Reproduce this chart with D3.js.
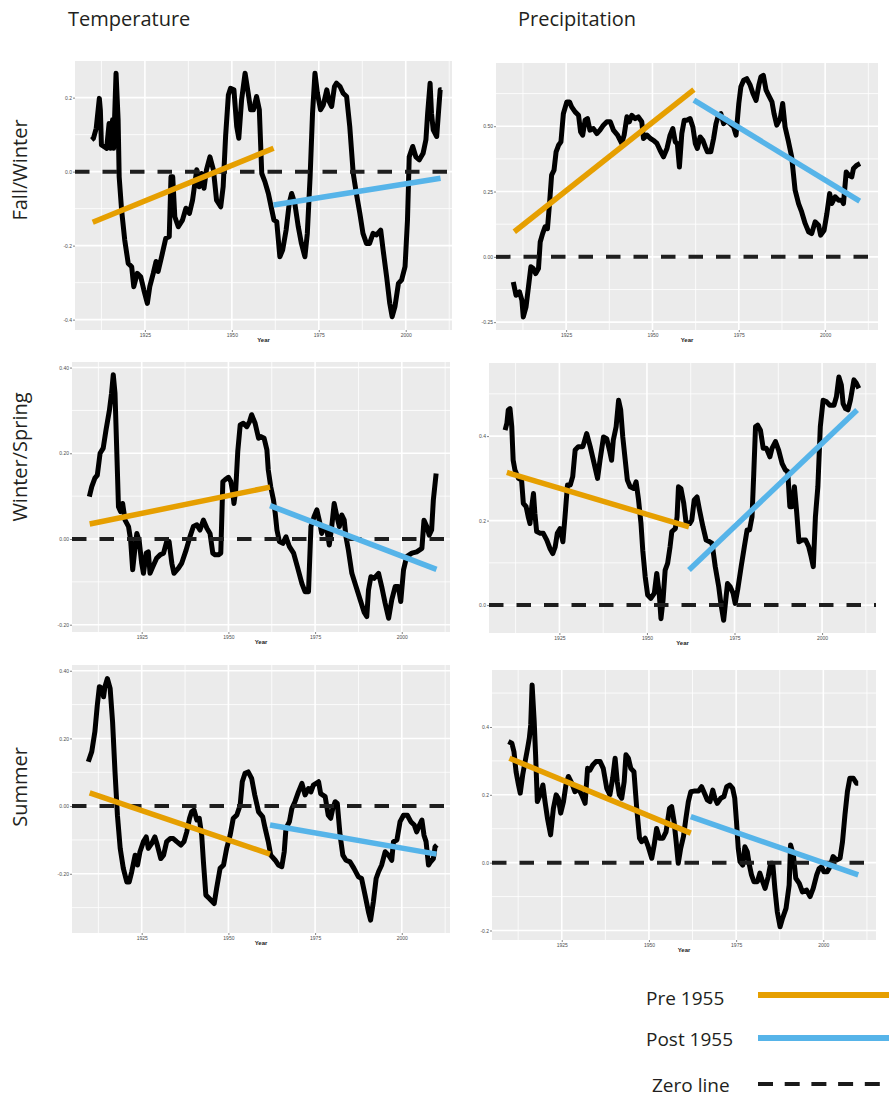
<!DOCTYPE html>
<html>
<head>
<meta charset="utf-8">
<script src="https://cdn.jsdelivr.net/npm/d3@7"></script>
<style>
  body { margin: 0; background: #ffffff; }
  svg { display: block; }
</style>
</head>
<body>
<svg id="chart" width="889" height="1099"></svg>
<script>
// ---------------------------------------------------------------
// Smoothed anomaly series (year, value) for each season / variable
// ---------------------------------------------------------------
const yearTicks = [1925, 1950, 1975, 2000];
const yearTickLabels = ["1925", "1950", "1975", "2000"];
const preYears = [1910, 1962];
const postYears = [1962, 2010];

// Temperature, Fall/Winter
const tempFallWinterYear = [1909.7,1910.2,1911.0,1911.9,1912.2,1912.5,1913.5,1914.0,1914.7,1915.1,1915.7,1916.0,1916.7,1917.3,1917.6,1918.3,1919.2,1920.2,1921.2,1921.8,1922.8,1923.8,1924.7,1925.7,1926.4,1927.4,1928.2,1928.8,1929.8,1931.0,1932.0,1932.5,1933.0,1933.6,1934.6,1935.8,1936.8,1937.8,1938.7,1939.9,1940.6,1941.3,1942.0,1942.7,1943.7,1944.7,1945.6,1946.8,1947.5,1948.2,1949.0,1949.6,1950.6,1951.4,1952.0,1952.8,1953.8,1954.7,1955.4,1956.2,1957.1,1957.9,1958.6,1959.5,1960.5,1961.5,1962.1,1962.9,1963.8,1964.6,1965.6,1966.5,1967.2,1968.1,1969.1,1970.0,1971.0,1971.7,1972.5,1973.2,1973.9,1974.6,1975.5,1976.3,1977.3,1978.0,1978.7,1979.5,1980.1,1981.1,1982.0,1983.0,1983.9,1984.9,1985.8,1986.8,1987.7,1988.7,1989.6,1990.6,1991.6,1992.8,1993.5,1994.5,1995.4,1996.1,1996.9,1997.9,1998.8,1999.8,2000.5,2001.0,2002.0,2002.9,2003.9,2005.0,2005.8,2006.3,2007.0,2007.4,2007.9,2008.9,2009.4,2009.9,2010.3];
const tempFallWinterValue = [0.086,0.09,0.117,0.198,0.165,0.072,0.066,0.063,0.13,0.063,0.14,0.063,0.266,0.14,-0.014,-0.104,-0.185,-0.248,-0.257,-0.311,-0.275,-0.284,-0.32,-0.356,-0.311,-0.275,-0.243,-0.27,-0.23,-0.18,-0.176,-0.014,-0.014,-0.122,-0.149,-0.131,-0.099,-0.113,-0.077,0.005,-0.041,-0.005,-0.045,0.005,0.04,0.005,-0.077,-0.095,-0.041,0.095,0.207,0.225,0.221,0.122,0.09,0.194,0.266,0.212,0.167,0.167,0.203,0.167,-0.005,-0.027,-0.059,-0.104,-0.131,-0.135,-0.23,-0.212,-0.158,-0.086,-0.059,-0.086,-0.149,-0.194,-0.23,-0.167,-0.014,0.158,0.266,0.212,0.167,0.18,0.221,0.189,0.176,0.23,0.239,0.23,0.212,0.203,0.122,-0.005,-0.059,-0.113,-0.167,-0.194,-0.194,-0.167,-0.171,-0.158,-0.212,-0.284,-0.356,-0.392,-0.365,-0.302,-0.293,-0.257,-0.131,0.04,0.068,0.04,0.032,0.05,0.086,0.158,0.239,0.158,0.113,0.095,0.158,0.221,0.221];
const tempFallWinterPre = [-0.137, 0.063];
const tempFallWinterPost = [-0.09, -0.018];
const tempFallWinterTicks = [-0.4, -0.2, 0, 0.2];
const tempFallWinterTickLabels = ["-0.4", "-0.2", "0.0", "0.2"];

// Temperature, Winter/Spring
const tempWinterSpringYear = [1909.9,1910.6,1911.5,1912.2,1913.0,1913.9,1914.7,1915.7,1916.3,1916.8,1917.3,1917.8,1918.3,1918.9,1919.5,1920.2,1921.2,1921.8,1922.4,1923.1,1923.6,1924.3,1925.0,1925.5,1926.3,1926.9,1927.4,1928.2,1929.3,1930.3,1931.3,1932.2,1932.9,1933.7,1934.3,1935.6,1936.5,1937.8,1938.9,1939.9,1940.9,1941.8,1942.8,1943.8,1944.7,1945.5,1946.2,1947.1,1947.8,1948.4,1949.0,1950.0,1950.7,1951.3,1951.6,1952.1,1952.7,1953.4,1954.3,1955.3,1956.1,1956.7,1957.7,1958.7,1959.4,1960.3,1961.1,1961.5,1962.2,1963.0,1963.5,1964.0,1964.7,1965.7,1966.6,1967.6,1968.8,1969.9,1971.2,1972.1,1973.1,1973.8,1974.7,1975.5,1976.3,1976.9,1977.6,1978.4,1979.1,1979.8,1980.5,1981.3,1982.0,1982.7,1983.4,1983.9,1984.6,1985.6,1986.8,1988.0,1989.1,1989.9,1990.4,1991.1,1992.0,1993.3,1994.2,1995.2,1996.2,1997.1,1998.1,1999.0,1999.7,2000.5,2001.4,2002.9,2004.3,2005.8,2006.4,2007.2,2007.9,2008.6,2009.1,2009.9];
const tempWinterSpringValue = [0.099,0.122,0.142,0.149,0.2,0.212,0.254,0.301,0.34,0.383,0.34,0.208,0.075,0.064,0.083,0.044,0.029,-0.002,-0.072,-0.018,0.013,-0.006,-0.057,-0.08,-0.033,-0.03,-0.08,-0.065,-0.045,-0.037,-0.033,-0.006,-0.006,-0.057,-0.08,-0.068,-0.057,-0.026,0.005,0.029,0.033,0.021,0.044,0.025,0.013,-0.033,-0.037,-0.037,-0.033,0.134,0.138,0.144,0.134,0.107,0.083,0.114,0.204,0.266,0.27,0.262,0.274,0.29,0.27,0.235,0.239,0.235,0.208,0.161,0.122,0.091,0.06,0.021,-0.006,-0.01,0.005,-0.018,-0.033,-0.065,-0.104,-0.123,-0.123,0.029,0.052,0.068,0.04,0.013,0.029,0.021,-0.014,0.029,0.083,0.052,0.029,0.056,0.044,0.005,-0.026,-0.08,-0.111,-0.142,-0.17,-0.181,-0.119,-0.088,-0.092,-0.08,-0.111,-0.15,-0.185,-0.142,-0.111,-0.111,-0.146,-0.072,-0.041,-0.033,-0.03,-0.022,0.044,0.029,0.009,0.021,0.091,0.153];
const tempWinterSpringPre = [0.035, 0.121];
const tempWinterSpringPost = [0.078, -0.071];
const tempWinterSpringTicks = [-0.2, 0, 0.2, 0.4];
const tempWinterSpringTickLabels = ["-0.20", "0.00", "0.20", "0.40"];

// Temperature, Summer
const tempSummerYear = [1909.6,1910.6,1911.5,1912.2,1912.8,1913.5,1914.0,1914.4,1915.1,1915.9,1916.6,1917.3,1918.0,1918.8,1919.7,1920.7,1921.4,1922.1,1923.1,1923.8,1924.5,1925.5,1926.3,1926.9,1927.9,1928.8,1929.5,1930.5,1931.3,1932.2,1933.2,1934.1,1935.1,1936.3,1937.2,1938.0,1938.8,1939.4,1940.1,1940.9,1941.6,1942.3,1942.8,1943.5,1944.5,1945.9,1946.6,1947.6,1948.6,1949.5,1950.5,1951.4,1952.4,1953.4,1954.0,1954.8,1955.7,1956.7,1957.6,1958.7,1959.9,1960.6,1961.5,1962.2,1963.5,1964.4,1965.4,1966.1,1966.6,1967.6,1968.3,1969.2,1970.2,1971.2,1972.1,1973.1,1973.8,1974.5,1976.0,1976.6,1977.9,1978.8,1979.5,1980.1,1980.8,1981.4,1982.2,1983.0,1983.9,1985.1,1986.2,1987.5,1988.4,1989.4,1990.4,1991.0,1991.8,1992.6,1993.3,1994.2,1995.2,1996.2,1997.1,1997.6,1998.6,1999.5,2000.5,2001.6,2002.6,2003.6,2004.3,2005.1,2005.8,2006.4,2007.0,2007.7,2008.3,2009.1,2009.6,2010.1];
const tempSummerValue = [0.131,0.161,0.22,0.299,0.353,0.348,0.323,0.353,0.377,0.348,0.249,0.101,-0.027,-0.125,-0.184,-0.224,-0.224,-0.195,-0.145,-0.174,-0.135,-0.105,-0.091,-0.125,-0.11,-0.091,-0.115,-0.155,-0.145,-0.105,-0.096,-0.096,-0.105,-0.115,-0.105,-0.076,-0.036,-0.017,-0.012,-0.041,-0.036,-0.086,-0.165,-0.263,-0.273,-0.288,-0.243,-0.184,-0.174,-0.125,-0.086,-0.036,-0.027,0.003,0.072,0.097,0.101,0.082,0.033,-0.017,-0.032,-0.066,-0.105,-0.145,-0.16,-0.174,-0.179,-0.135,-0.066,-0.046,-0.007,0.013,0.042,0.067,0.033,0.052,0.042,0.062,0.072,0.037,0.028,-0.027,-0.036,-0.007,0.013,0.008,-0.086,-0.145,-0.16,-0.165,-0.184,-0.209,-0.214,-0.263,-0.313,-0.337,-0.283,-0.214,-0.194,-0.174,-0.135,-0.145,-0.16,-0.105,-0.1,-0.046,-0.027,-0.027,-0.046,-0.056,-0.076,-0.056,-0.041,-0.086,-0.105,-0.174,-0.165,-0.155,-0.12,-0.115];
const tempSummerPre = [0.039, -0.142];
const tempSummerPost = [-0.056, -0.142];
const tempSummerTicks = [-0.2, 0, 0.2, 0.4];
const tempSummerTickLabels = ["-0.20", "0.00", "0.20", "0.40"];

// Precipitation, Fall/Winter
const precipFallWinterYear = [1909.7,1910.5,1911.5,1912.2,1912.6,1913.4,1914.1,1914.8,1915.5,1916.2,1917.0,1917.5,1918.2,1918.9,1919.6,1920.2,1920.8,1921.5,1922.1,1922.8,1923.5,1924.2,1925.2,1926.0,1926.6,1927.6,1928.6,1929.2,1929.8,1930.5,1931.2,1931.9,1932.9,1933.9,1934.8,1935.8,1936.8,1937.8,1938.7,1939.9,1941.1,1941.8,1942.6,1943.3,1944.0,1945.0,1945.9,1946.9,1947.4,1948.4,1949.4,1950.3,1951.3,1952.2,1953.2,1954.2,1955.1,1955.9,1956.6,1957.2,1957.8,1958.5,1959.2,1959.9,1960.9,1961.7,1962.4,1963.0,1963.8,1964.6,1965.3,1965.9,1966.9,1967.7,1968.4,1969.1,1969.8,1970.6,1971.5,1972.5,1973.5,1974.2,1975.0,1975.6,1976.4,1977.3,1978.3,1979.1,1980.0,1980.8,1981.4,1982.1,1982.9,1983.6,1984.6,1985.2,1986.0,1987.0,1987.7,1988.4,1989.4,1990.3,1991.3,1992.3,1993.2,1994.2,1995.2,1996.1,1997.1,1998.1,1998.7,1999.7,2000.5,2001.3,2001.9,2002.9,2003.9,2004.8,2005.3,2006.1,2006.8,2007.7,2008.2,2009.2,2010.1];
const precipFallWinterValue = [-0.096,-0.147,-0.134,-0.166,-0.23,-0.191,-0.115,-0.038,-0.045,-0.064,-0.045,0.057,0.089,0.115,0.108,0.204,0.313,0.332,0.402,0.427,0.44,0.548,0.593,0.593,0.574,0.555,0.542,0.478,0.466,0.523,0.529,0.485,0.491,0.472,0.485,0.504,0.517,0.517,0.485,0.466,0.434,0.466,0.536,0.517,0.542,0.529,0.536,0.517,0.453,0.466,0.453,0.446,0.434,0.408,0.383,0.415,0.466,0.491,0.44,0.434,0.344,0.472,0.523,0.523,0.529,0.497,0.434,0.415,0.459,0.446,0.421,0.402,0.402,0.453,0.51,0.542,0.548,0.51,0.523,0.51,0.497,0.466,0.587,0.651,0.676,0.682,0.657,0.625,0.599,0.657,0.689,0.695,0.638,0.619,0.593,0.548,0.504,0.529,0.587,0.497,0.44,0.383,0.255,0.204,0.172,0.128,0.096,0.089,0.134,0.121,0.083,0.102,0.166,0.242,0.204,0.23,0.217,0.217,0.204,0.325,0.313,0.306,0.338,0.351,0.357];
const precipFallWinterPre = [0.096, 0.64];
const precipFallWinterPost = [0.6, 0.213];
const precipFallWinterTicks = [-0.25, 0, 0.25, 0.5];
const precipFallWinterTickLabels = ["-0.25", "0.00", "0.25", "0.50"];

// Precipitation, Winter/Spring
const precipWinterSpringYear = [1909.5,1910.0,1910.4,1910.9,1911.4,1911.8,1912.3,1913.3,1914.2,1914.7,1915.5,1916.1,1916.6,1917.1,1917.6,1918.0,1918.5,1919.5,1920.4,1921.4,1922.3,1923.1,1923.8,1924.4,1925.2,1926.0,1926.6,1927.3,1928.1,1928.8,1929.5,1930.4,1931.7,1932.8,1933.8,1934.7,1935.9,1936.6,1937.6,1938.5,1939.3,1939.9,1940.4,1941.2,1941.9,1942.5,1943.1,1943.8,1944.4,1945.2,1946.2,1946.9,1947.6,1948.3,1948.8,1949.5,1950.2,1951.1,1952.1,1952.8,1953.5,1954.0,1954.6,1955.2,1955.9,1956.6,1957.1,1958.1,1958.6,1959.0,1959.7,1960.5,1961.2,1962.2,1962.8,1963.5,1964.3,1965.0,1966.0,1966.9,1967.9,1968.6,1969.5,1970.5,1971.1,1971.9,1972.4,1973.0,1973.8,1974.6,1975.2,1975.9,1976.9,1977.8,1978.6,1979.3,1980.0,1980.5,1981.0,1981.6,1982.4,1983.2,1984.1,1985.1,1985.7,1986.7,1987.6,1988.6,1989.5,1990.2,1990.8,1991.4,1992.1,1992.7,1993.4,1994.3,1995.3,1996.2,1996.9,1997.5,1998.1,1998.8,1999.5,2000.3,2001.3,2002.2,2003.4,2004.1,2004.8,2005.5,2006.0,2006.7,2007.4,2008.1,2009.1,2009.8,2010.5];
const precipWinterSpringValue = [0.414,0.43,0.462,0.465,0.422,0.343,0.32,0.3,0.296,0.241,0.233,0.209,0.193,0.233,0.264,0.217,0.174,0.17,0.17,0.154,0.134,0.122,0.138,0.17,0.181,0.15,0.209,0.284,0.284,0.304,0.367,0.375,0.375,0.406,0.375,0.343,0.3,0.343,0.398,0.394,0.367,0.343,0.391,0.422,0.485,0.462,0.398,0.343,0.296,0.28,0.276,0.292,0.249,0.193,0.13,0.067,0.024,0.016,0.028,0.075,0.028,-0.032,0.012,0.083,0.099,0.138,0.174,0.181,0.209,0.28,0.276,0.241,0.193,0.193,0.201,0.249,0.256,0.225,0.185,0.154,0.15,0.146,0.091,0.043,0.004,-0.036,0.004,0.051,0.043,0.028,0.004,0.036,0.091,0.138,0.178,0.178,0.209,0.312,0.422,0.426,0.414,0.371,0.371,0.351,0.371,0.387,0.367,0.335,0.32,0.316,0.233,0.233,0.28,0.225,0.15,0.154,0.154,0.138,0.114,0.091,0.209,0.28,0.422,0.485,0.481,0.473,0.473,0.493,0.54,0.521,0.477,0.465,0.462,0.485,0.533,0.525,0.513];
const precipWinterSpringPre = [0.314, 0.185];
const precipWinterSpringPost = [0.083, 0.462];
const precipWinterSpringTicks = [0, 0.2, 0.4];
const precipWinterSpringTickLabels = ["0.0", "0.2", "0.4"];

// Precipitation, Summer
const precipSummerYear = [1909.7,1910.7,1911.3,1911.9,1912.6,1913.1,1913.8,1914.5,1915.2,1915.7,1916.1,1916.5,1917.1,1917.5,1918.0,1918.8,1919.6,1920.2,1920.9,1921.8,1922.6,1923.4,1924.0,1924.7,1925.5,1926.2,1926.9,1927.9,1928.8,1929.8,1930.7,1931.7,1932.4,1933.1,1933.9,1934.8,1936.0,1936.9,1937.9,1938.8,1939.6,1940.3,1940.9,1941.5,1942.2,1942.9,1943.4,1944.1,1944.8,1945.7,1946.5,1947.3,1947.9,1948.9,1949.8,1950.8,1951.5,1952.2,1953.0,1954.0,1954.9,1955.9,1956.5,1957.2,1957.8,1958.4,1959.1,1959.9,1960.6,1961.3,1962.0,1962.9,1964.2,1965.1,1966.1,1966.7,1967.5,1968.3,1968.9,1969.6,1970.6,1971.5,1972.3,1973.2,1974.0,1974.6,1975.1,1975.6,1976.1,1976.9,1977.5,1978.2,1978.8,1979.4,1980.1,1981.1,1981.8,1982.6,1983.3,1984.2,1984.9,1985.5,1986.1,1986.8,1987.6,1988.3,1989.3,1990.2,1990.6,1991.4,1992.1,1993.1,1994.0,1995.2,1996.2,1997.1,1998.1,1998.8,1999.5,2000.2,2001.1,2001.9,2002.8,2003.8,2004.8,2005.5,2006.2,2006.9,2007.6,2008.6,2009.5,2010.0];
const precipSummerValue = [0.357,0.352,0.327,0.268,0.229,0.205,0.259,0.298,0.337,0.367,0.406,0.524,0.416,0.318,0.18,0.2,0.229,0.18,0.131,0.082,0.16,0.2,0.19,0.146,0.18,0.229,0.254,0.234,0.209,0.219,0.2,0.175,0.278,0.273,0.288,0.298,0.298,0.278,0.219,0.2,0.249,0.308,0.239,0.2,0.19,0.239,0.318,0.308,0.278,0.268,0.16,0.072,0.062,0.072,0.047,0.013,0.052,0.101,0.072,0.072,0.091,0.16,0.165,0.121,0.062,-0.002,0.042,0.077,0.131,0.18,0.209,0.211,0.211,0.224,0.2,0.185,0.18,0.214,0.19,0.175,0.19,0.195,0.224,0.229,0.219,0.19,0.121,0.042,0.003,-0.007,0.047,0.032,-0.007,-0.036,-0.056,-0.056,-0.031,-0.056,-0.076,-0.041,-0.002,-0.002,-0.076,-0.145,-0.189,-0.164,-0.135,-0.066,0.052,0.023,-0.046,-0.061,-0.086,-0.081,-0.1,-0.076,-0.036,-0.017,-0.012,-0.027,-0.027,-0.012,0.018,0.008,0.013,0.062,0.141,0.209,0.249,0.249,0.234,0.234];
const precipSummerPre = [0.308, 0.087];
const precipSummerPost = [0.136, -0.036];
const precipSummerTicks = [-0.2, 0, 0.2, 0.4];
const precipSummerTickLabels = ["-0.2", "0.0", "0.2", "0.4"];

// Column / row headings and legend entries
const columnTitles = ["Temperature", "Precipitation"];
const rowTitles = ["Fall/Winter", "Winter/Spring", "Summer"];
const legendLabels = ["Pre 1955", "Post 1955", "Zero line"];

// ---------------------------------------------------------------
// Layout and styling
// ---------------------------------------------------------------
const COLORS = { pre: "#E69F00", post: "#56B4E9", series: "#000000", zero: "#1e1e1e",
                 panel: "#EBEBEB", grid: "#FFFFFF", text: "#231f20", tick: "#4d4d4d" };
const HEAD_FONT = "'Open Sans', 'Noto Sans', sans-serif";
const AXIS_FONT = "'Liberation Sans', Arial, sans-serif";

const panels = [
  { year: tempFallWinterYear, value: tempFallWinterValue, pre: tempFallWinterPre, post: tempFallWinterPost,
    ticks: tempFallWinterTicks, labels: tempFallWinterTickLabels,
    box: [75, 61, 452, 330], xDom: [1904.9, 2013.3], yDom: [-0.428, 0.299] },
  { year: precipFallWinterYear, value: precipFallWinterValue, pre: precipFallWinterPre, post: precipFallWinterPost,
    ticks: precipFallWinterTicks, labels: precipFallWinterTickLabels,
    box: [496, 63, 878, 330], xDom: [1904.7, 2015.3], yDom: [-0.28, 0.742] },
  { year: tempWinterSpringYear, value: tempWinterSpringValue, pre: tempWinterSpringPre, post: tempWinterSpringPost,
    ticks: tempWinterSpringTicks, labels: tempWinterSpringTickLabels,
    box: [72, 362, 450, 632], xDom: [1904.9, 2013.9], yDom: [-0.217, 0.413] },
  { year: precipWinterSpringYear, value: precipWinterSpringValue, pre: precipWinterSpringPre, post: precipWinterSpringPost,
    ticks: precipWinterSpringTicks, labels: precipWinterSpringTickLabels,
    box: [489, 363, 876, 633], xDom: [1904.9, 2015.4], yDom: [-0.066, 0.573] },
  { year: tempSummerYear, value: tempSummerValue, pre: tempSummerPre, post: tempSummerPost,
    ticks: tempSummerTicks, labels: tempSummerTickLabels,
    box: [72, 665, 450, 933], xDom: [1904.9, 2013.9], yDom: [-0.375, 0.417] },
  { year: precipSummerYear, value: precipSummerValue, pre: precipSummerPre, post: precipSummerPost,
    ticks: precipSummerTicks, labels: precipSummerTickLabels,
    box: [492, 670, 876, 940], xDom: [1905.0, 2015.1], yDom: [-0.228, 0.568] }
];

const svg = d3.select("#chart");

// minor grid positions: halfway between majors, extended one step outward
function minorsOf(majors, domain) {
  const step = majors[1] - majors[0];
  const out = [];
  for (let v = majors[0] - step / 2; v <= majors[majors.length - 1] + step / 2 + 1e-9; v += step) {
    if (v >= domain[0] - 1e-9 && v <= domain[1] + 1e-9) out.push(+v.toFixed(4));
  }
  return out;
}

panels.forEach(p => {
  const [x0, y0, x1, y1] = p.box;
  const x = d3.scaleLinear().domain(p.xDom).range([x0, x1]);
  const y = d3.scaleLinear().domain(p.yDom).range([y1, y0]);
  const g = svg.append("g");

  const clipId = "clip" + x0 + "_" + y0;
  svg.append("clipPath").attr("id", clipId)
    .append("rect").attr("x", x0).attr("y", y0).attr("width", x1 - x0).attr("height", y1 - y0);

  g.append("rect").attr("x", x0).attr("y", y0).attr("width", x1 - x0).attr("height", y1 - y0)
    .attr("fill", COLORS.panel);

  // grid
  const grid = g.append("g").attr("stroke", COLORS.grid);
  grid.selectAll(".ymin").data(minorsOf(p.ticks, p.yDom)).join("line")
    .attr("x1", x0).attr("x2", x1).attr("y1", d => y(d)).attr("y2", d => y(d)).attr("stroke-width", 0.8);
  grid.selectAll(".xmin").data(minorsOf(yearTicks, p.xDom)).join("line")
    .attr("y1", y0).attr("y2", y1).attr("x1", d => x(d)).attr("x2", d => x(d)).attr("stroke-width", 0.8);
  grid.selectAll(".ymaj").data(p.ticks).join("line")
    .attr("x1", x0).attr("x2", x1).attr("y1", d => y(d)).attr("y2", d => y(d)).attr("stroke-width", 1.6);
  grid.selectAll(".xmaj").data(yearTicks).join("line")
    .attr("y1", y0).attr("y2", y1).attr("x1", d => x(d)).attr("x2", d => x(d)).attr("stroke-width", 1.6);

  // axes
  const yAxis = d3.axisLeft(y).tickValues(p.ticks).tickSize(2).tickPadding(1)
    .tickFormat((d, i) => p.labels[i]);
  const ya = g.append("g").attr("transform", `translate(${x0},0)`).call(yAxis);
  const xAxis = d3.axisBottom(x).tickValues(yearTicks).tickSize(2).tickPadding(1)
    .tickFormat((d, i) => yearTickLabels[i]);
  const xa = g.append("g").attr("transform", `translate(0,${y1})`).call(xAxis);
  [ya, xa].forEach(a => {
    a.select(".domain").remove();
    a.selectAll(".tick line").attr("stroke", "#333").attr("stroke-width", 0.6);
    a.selectAll(".tick text").attr("fill", COLORS.tick).style("font-family", AXIS_FONT).style("font-size", "5px");
  });
  g.append("text").attr("x", (x0 + x1) / 2).attr("y", y1 + 12).attr("text-anchor", "middle")
    .style("font-family", AXIS_FONT).style("font-size", "6px").style("font-weight", "bold")
    .attr("fill", "#222").text("Year");

  const plot = g.append("g").attr("clip-path", `url(#${clipId})`);

  // smoothed series
  const pts = p.year.map((yr, i) => [yr, p.value[i]]);
  plot.append("path").datum(pts)
    .attr("d", d3.line().x(d => x(d[0])).y(d => y(d[1])))
    .attr("fill", "none").attr("stroke", COLORS.series).attr("stroke-width", 5)
    .attr("stroke-linejoin", "round").attr("stroke-linecap", "butt");

  // zero reference
  plot.append("line").attr("x1", x0).attr("x2", x1).attr("y1", y(0)).attr("y2", y(0))
    .attr("stroke", COLORS.zero).attr("stroke-width", 4).attr("stroke-dasharray", "14.5,13");

  // linear trends before and after the break
  [[preYears, p.pre, COLORS.pre], [postYears, p.post, COLORS.post]].forEach(([yrs, vals, col]) => {
    plot.append("line")
      .attr("x1", x(yrs[0])).attr("x2", x(yrs[1]))
      .attr("y1", y(vals[0])).attr("y2", y(vals[1]))
      .attr("stroke", col).attr("stroke-width", 5.5);
  });
});

// column headings
const colX = [68, 518];
columnTitles.forEach((t, i) => {
  svg.append("text").attr("x", colX[i]).attr("y", 26)
    .style("font-family", HEAD_FONT).style("font-size", "20px").attr("fill", COLORS.text).text(t);
});

// row headings
const rowY = [170, 457, 787];
rowTitles.forEach((t, i) => {
  svg.append("text").attr("transform", `translate(27,${rowY[i]}) rotate(-90)`)
    .attr("text-anchor", "middle")
    .style("font-family", HEAD_FONT).style("font-size", "20px").attr("fill", COLORS.text).text(t);
});

// legend
const legend = svg.append("g");
const legendRows = [
  { y: 995, base: 1005, textX: 646, color: COLORS.pre, width: 6, dash: null },
  { y: 1038, base: 1046, textX: 646, color: COLORS.post, width: 6, dash: null },
  { y: 1084, base: 1092, textX: 652, color: "#1a1a1a", width: 4, dash: "15,11.7" }
];
legendRows.forEach((r, i) => {
  legend.append("text").attr("x", r.textX).attr("y", r.base)
    .style("font-family", HEAD_FONT).style("font-size", "19px").attr("fill", COLORS.text)
    .text(legendLabels[i]);
  legend.append("line").attr("x1", 758).attr("x2", 889).attr("y1", r.y).attr("y2", r.y)
    .attr("stroke", r.color).attr("stroke-width", r.width)
    .attr("stroke-dasharray", r.dash);
});
</script>
</body>
</html>
